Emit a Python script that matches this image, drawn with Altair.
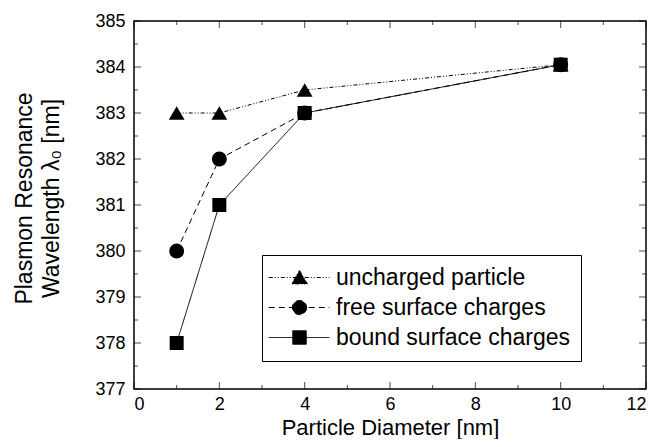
import altair as alt
import pandas as pd

# ---- data ----
series = ["uncharged particle", "free surface charges", "bound surface charges"]
diameters = [1, 2, 4, 10]
uncharged = [383.0, 383.0, 383.5, 384.05]
free = [380.0, 382.0, 383.0, 384.05]
bound = [378.0, 381.0, 383.0, 384.05]

x_major = [0, 2, 4, 6, 8, 10, 12]
x_minor = [1, 3, 5, 7, 9, 11]
y_major = [377, 378, 379, 380, 381, 382, 383, 384, 385]
y_minor = [377.5, 378.5, 379.5, 380.5, 381.5, 382.5, 383.5, 384.5]

rows = []
for name, vals in zip(series, [uncharged, free, bound]):
    for d, v in zip(diameters, vals):
        rows.append({"series": name, "d": d, "w": v})
df = pd.DataFrame(rows)

FONT = "Liberation Sans"
dashes = [[4, 2, 1, 2, 1, 2], [6, 4], [1, 0]]
shapes = ["triangle-up", "circle", "square"]
sizes = [250, 196, 176]

# legend glyphs: line segment with the marker on it (unit = 7.5 px)
legend_paths = [
    "M-2.1,0L6,0M2,-0.95L3.05,0.85L0.95,0.85Z",
    "M-2.1,0L6,0M2.95,0A0.95,0.95,0,1,1,1.05,0A0.95,0.95,0,1,1,2.95,0Z",
    "M-2.1,0L6,0M1.1,-0.9L2.9,-0.9L2.9,0.9L1.1,0.9Z",
]

xscale = alt.Scale(domain=[0, 12], nice=False, zero=False)
yscale = alt.Scale(domain=[377, 385], nice=False, zero=False)

x_axis = alt.Axis(
    values=x_major, title="Particle Diameter [nm]", ticks=False, domain=False,
    grid=False, labelFontSize=18, labelPadding=6, labelFont=FONT,
    labelColor="black", labelOverlap=False, titleFont=FONT, titleFontSize=22,
    titleFontWeight="normal", titleColor="black", titleY=45,
    titleBaseline="alphabetic",
)
y_axis = alt.Axis(
    values=y_major, format="d",
    title=["Plasmon Resonance", "Wavelength λ₀ [nm]"], ticks=False,
    domain=False, grid=False, labelFontSize=18, labelPadding=9,
    labelFont=FONT, labelColor="black", labelOverlap=False, titleFont=FONT,
    titleFontSize=23, titleFontWeight="normal", titleColor="black",
    titleX=-103, titleY=177, titleAngle=-90, titleBaseline="alphabetic",
    titleAlign="center", titleLineHeight=27,
)

X = alt.X("d:Q", scale=xscale, axis=x_axis)
Y = alt.Y("w:Q", scale=yscale, axis=y_axis)

base = alt.Chart(df)

lines = base.mark_line(color="black", strokeWidth=1).encode(
    x=X, y=Y,
    strokeDash=alt.StrokeDash("series:N", scale=alt.Scale(domain=series, range=dashes), legend=None),
    detail="series:N",
)

points = base.mark_point(filled=True, color="black", opacity=1).encode(
    x=X, y=Y,
    shape=alt.Shape("series:N", scale=alt.Scale(domain=series, range=shapes), legend=None),
    size=alt.Size("series:N", scale=alt.Scale(domain=series, range=sizes), legend=None),
)

leg = alt.Legend(
    title=None, orient="none", legendX=128, legendY=234, padding=11,
    strokeColor="black", fillColor="white", labelFont=FONT,
    labelFontSize=23, labelColor="black", labelLimit=600, labelOffset=40,
    symbolSize=225, rowPadding=6, symbolStrokeWidth=1,
    labelExpr="datum.label + '\u2003\u2003\u2003'",
)
legend_layer = base.transform_filter("false").mark_point(
    filled=True, color="black", stroke="black", strokeWidth=1, size=225, opacity=1
).encode(
    x=X, y=Y,
    shape=alt.Shape("series:N", scale=alt.Scale(domain=series, range=legend_paths), legend=leg),
    strokeDash=alt.StrokeDash("series:N", scale=alt.Scale(domain=series, range=dashes), legend=leg),
)


def tick_layer(values, axis_field, orient, size, pos):
    data = pd.DataFrame({"t": values})
    ch = alt.Chart(data).mark_tick(orient=orient, size=size, thickness=1, color="black")
    half = size / 2
    if axis_field == "x":
        enc = dict(
            x=alt.X("t:Q", scale=xscale, axis=x_axis),
            y=alt.datum(pos),
            yOffset=alt.value(-half if pos == 377 else half),
        )
    else:
        enc = dict(
            y=alt.Y("t:Q", scale=yscale, axis=y_axis),
            x=alt.datum(pos),
            xOffset=alt.value(half if pos == 0 else -half),
        )
    return ch.encode(**enc)


ticks = [
    tick_layer(x_major, "x", "vertical", 7, 377),
    tick_layer(x_minor, "x", "vertical", 4, 377),
    tick_layer(x_major, "x", "vertical", 7, 385),
    tick_layer(x_minor, "x", "vertical", 4, 385),
    tick_layer(y_major, "y", "horizontal", 7, 0),
    tick_layer(y_minor, "y", "horizontal", 4, 0),
    tick_layer(y_major, "y", "horizontal", 7, 12),
    tick_layer(y_minor, "y", "horizontal", 4, 12),
]

chart = alt.layer(lines, points, legend_layer, *ticks).resolve_scale(
    shape="independent", strokeDash="independent"
).properties(
    width=512, height=368,
    autosize=alt.AutoSizeParams(type="none"),
    padding={"left": 126, "top": 13, "right": 1, "bottom": 50},
    background="white",
).configure_view(stroke="black", strokeWidth=1.5)

chart.save("out.html", embed_options={"renderer": "svg", "actions": False})
